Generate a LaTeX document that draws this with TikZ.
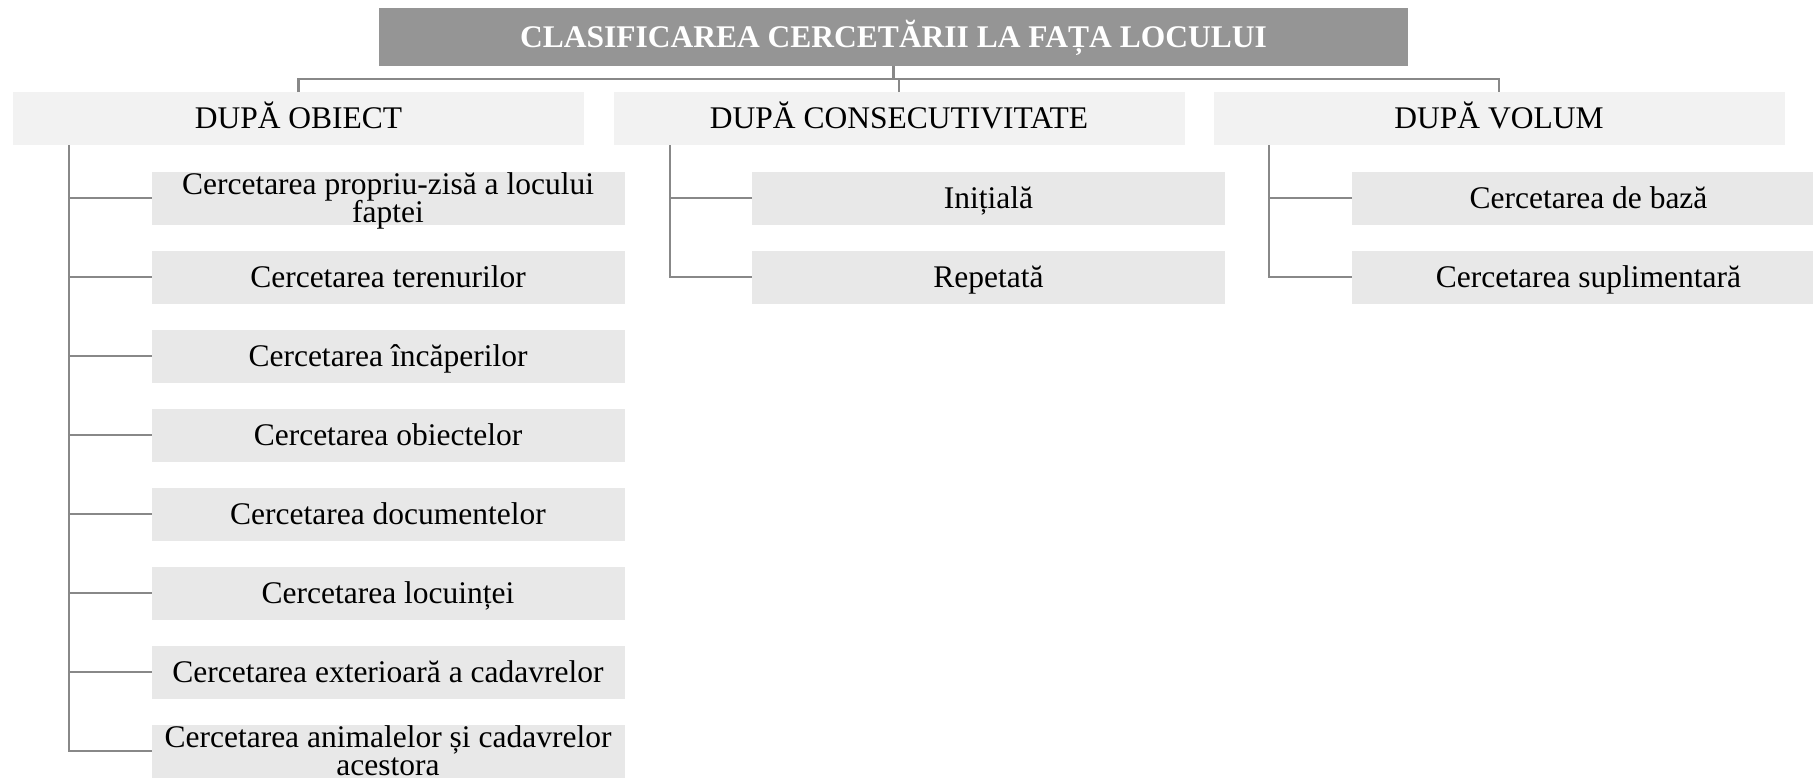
\documentclass[tikz,border=0pt]{standalone}
\usepackage{fontspec}
\setmainfont{Liberation Serif}
\usepackage{tikz}
\usetikzlibrary{positioning}
\definecolor{titleColor}{RGB}{149,149,149}
\definecolor{groupColor}{RGB}{242,242,242}
\definecolor{leafColor}{RGB}{232,232,232}
\definecolor{lineColor}{RGB}{136,136,136}
\newcommand{\chartSize}{\fontsize{31.5}{28}\selectfont\lineskiplimit=-100pt\relax}
\tikzstyle{chart} = [x = 1pt, y = -1pt]
\tikzstyle{boxStyle} = [inner sep = 0, outer sep = 0, align = center]
\tikzstyle{chartFont} = [font = \chartSize]
\tikzstyle{titleStyle} = [boxStyle, fill = titleColor, minimum width = 1029pt, minimum height = 58pt, text = white, font = \chartSize\bfseries]
\tikzstyle{groupStyle} = [boxStyle, chartFont, fill = groupColor, minimum width = 571pt, minimum height = 53pt]
\tikzstyle{leafStyle} = [boxStyle, fill = leafColor, minimum width = 473pt, minimum height = 53pt]
\tikzstyle{leafText} = [boxStyle, chartFont]
\tikzstyle{connector} = [color = lineColor, line width = 2.6pt]
\newcommand{\lineStrut}{\rule[-9pt]{0pt}{38pt}}
\newcommand{\leafBox}[3]{\node [leafStyle, #2, label = {[leafText]center:{\lineStrut #3}}] (#1) {};}
\newcommand{\branches}[2]{
  \foreach \leaf in {#2} {
    \draw [connector] (\leaf.west) -- (#1 |- \leaf.west);
  }
}

\begin{document}
\begin{tikzpicture}[chart]
  \useasboundingbox (0,0) rectangle (1813,779);
  \node [titleStyle] (title) at (893.5,37) {\lineStrut CLASIFICAREA CERCETĂRII LA FAȚA LOCULUI};
  \node [groupStyle] (byObject) at (298.5,118.5) {\lineStrut DUPĂ OBIECT};
  \node [groupStyle] (byOrder) at (899,118.5) {\lineStrut DUPĂ CONSECUTIVITATE};
  \node [groupStyle] (byVolume) at (1499,118.5) {\lineStrut DUPĂ VOLUM};

  \coordinate (bus) at (0,79);
  \draw [connector] (title.south) -- (title.south |- bus);
  \draw [connector] (byObject.north) -- (byObject.north |- bus) -| (byVolume.north);
  \draw [connector] (byOrder.north) -- (byOrder.north |- bus);

  % dupa obiect
  \leafBox{objectOne}{at = {(388,198)}}{Cercetarea propriu-zisă a locului\\\lineStrut faptei}
  \leafBox{objectTwo}{below = 26pt of objectOne}{Cercetarea terenurilor}
  \leafBox{objectThree}{below = 26pt of objectTwo}{Cercetarea încăperilor}
  \leafBox{objectFour}{below = 26pt of objectThree}{Cercetarea obiectelor}
  \leafBox{objectFive}{below = 26pt of objectFour}{Cercetarea documentelor}
  \leafBox{objectSix}{below = 26pt of objectFive}{Cercetarea locuinței}
  \leafBox{objectSeven}{below = 26pt of objectSix}{Cercetarea exterioară a cadavrelor}
  \leafBox{objectEight}{below = 26pt of objectSeven}{Cercetarea animalelor și cadavrelor\\\lineStrut acestora}
  \coordinate (objectSpine) at (69,145);
  \draw [connector] (objectSpine) |- (objectEight.west);
  \branches{objectSpine}{objectOne,objectTwo,objectThree,objectFour,objectFive,objectSix,objectSeven}

  % dupa consecutivitate
  \leafBox{orderOne}{at = {(988.5,198)}}{Inițială}
  \leafBox{orderTwo}{below = 26pt of orderOne}{Repetată}
  \coordinate (orderSpine) at (670,145);
  \draw [connector] (orderSpine) |- (orderTwo.west);
  \branches{orderSpine}{orderOne}

  % dupa volum
  \leafBox{volumeOne}{at = {(1588.5,198)}}{Cercetarea de bază}
  \leafBox{volumeTwo}{below = 26pt of volumeOne}{Cercetarea suplimentară}
  \coordinate (volumeSpine) at (1269,145);
  \draw [connector] (volumeSpine) |- (volumeTwo.west);
  \branches{volumeSpine}{volumeOne}
\end{tikzpicture}
\end{document}
